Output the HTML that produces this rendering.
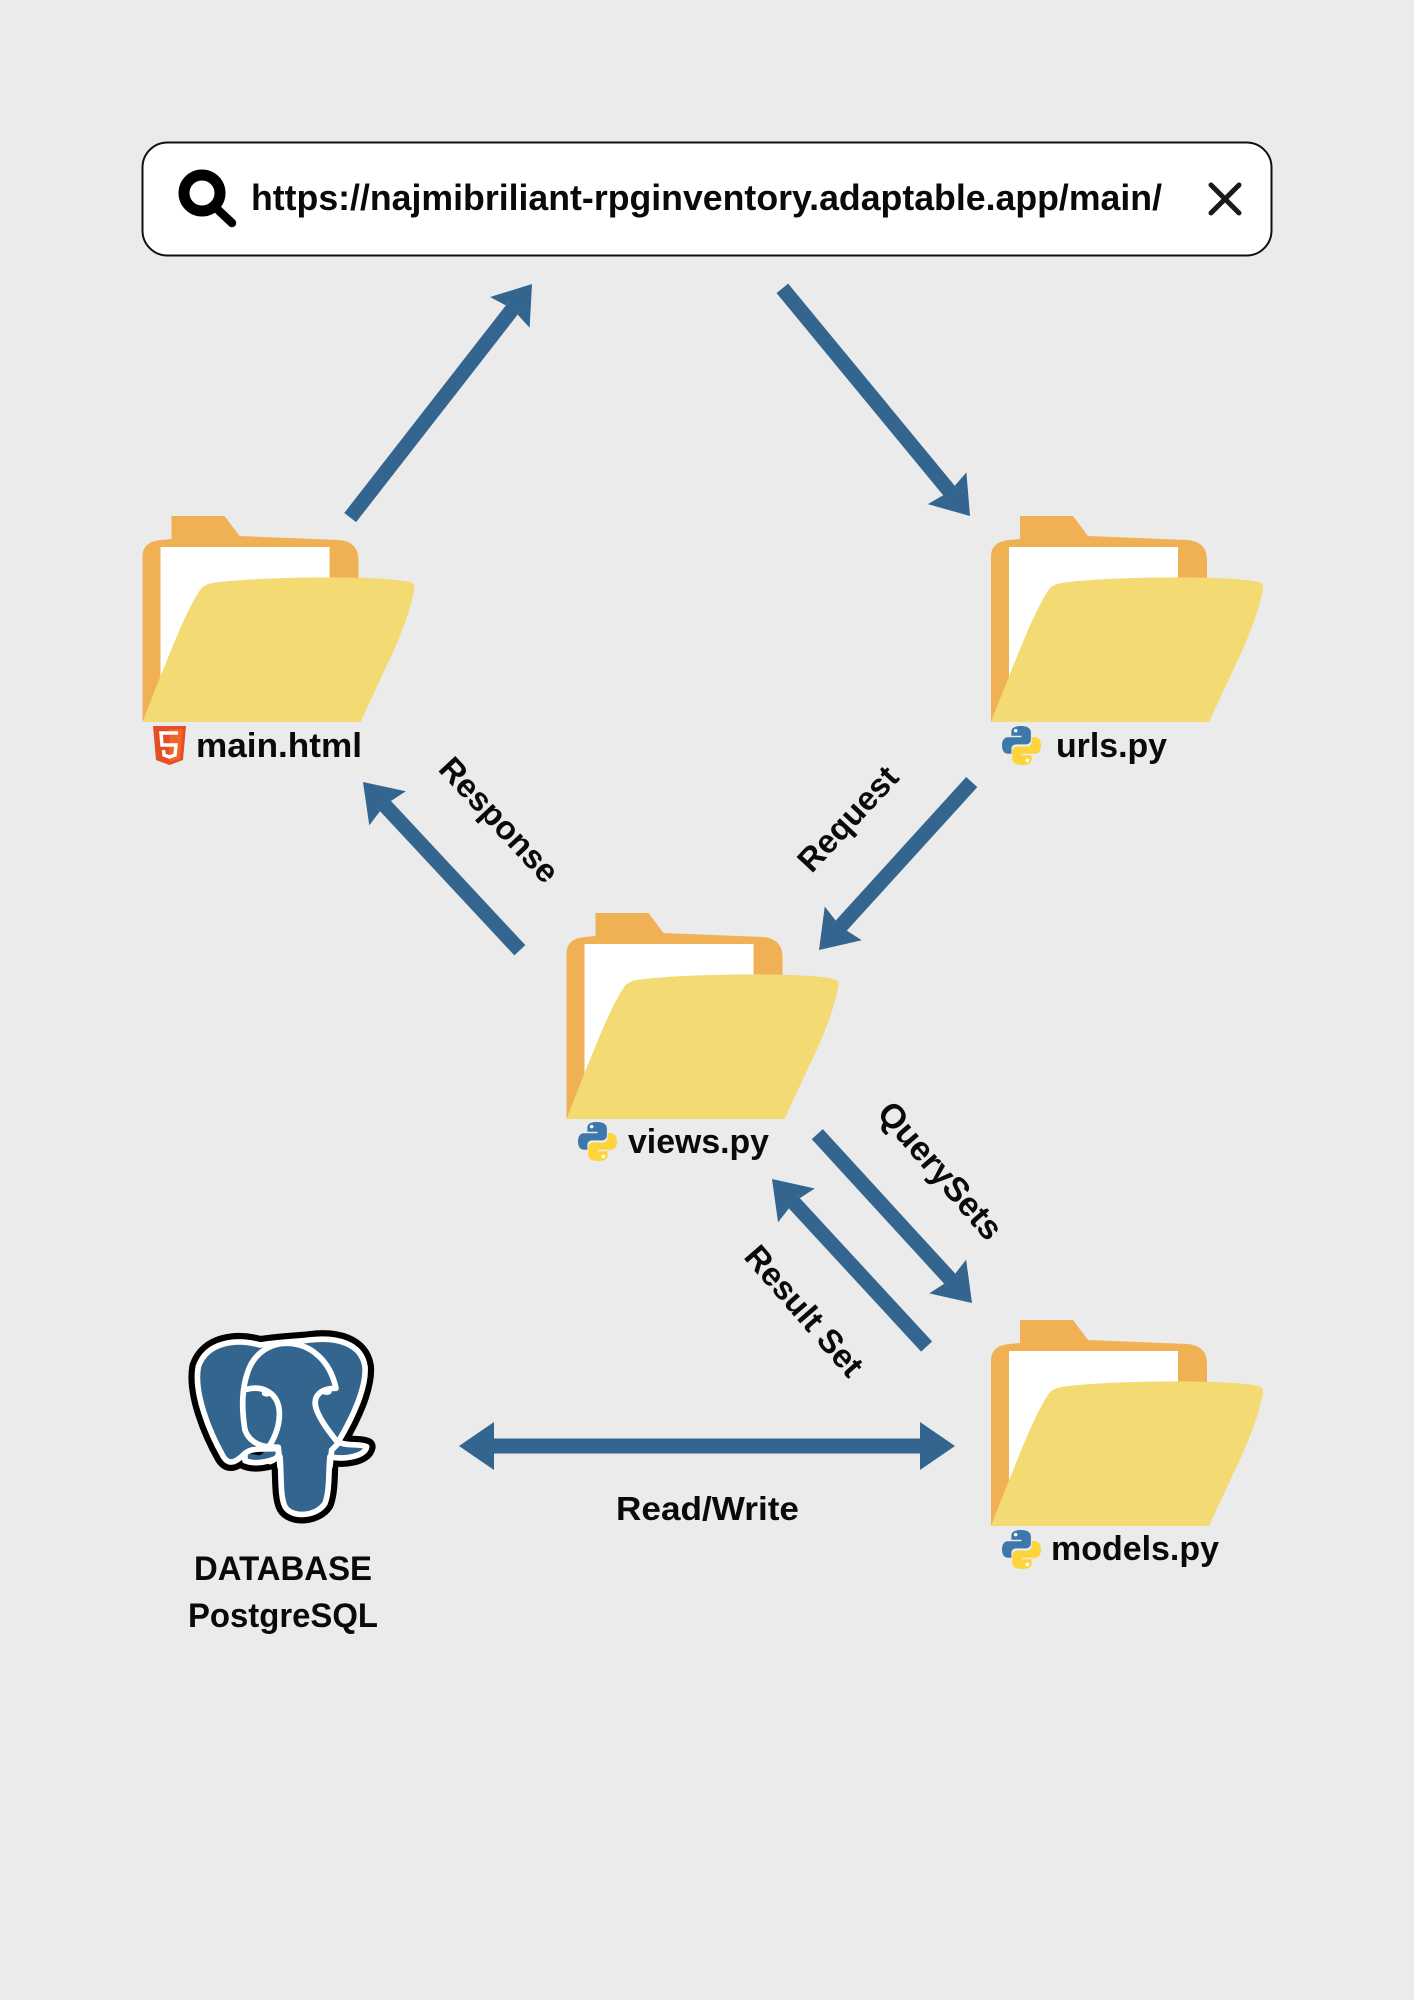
<!DOCTYPE html>
<html><head><meta charset="utf-8"><style>
html,body{margin:0;padding:0;background:#ebebeb}
svg{display:block}
text{font-family:"Liberation Sans",sans-serif;font-weight:700;fill:#0a0a0a}
</style></head><body>
<svg width="1414" height="2000" viewBox="0 0 1414 2000" xmlns="http://www.w3.org/2000/svg">
<defs>
<g id="folder">
<path fill="#f0b155" d="M0 206V40Q0 26 18 24L29 23V0H82L97 20L197 24Q216 26 216 44V206Z"/>
<path fill="#ffffff" d="M18 31H187V160H18Z"/>
<path fill="#f4da73" d="M0 206C12 175 28 135 37 114C44 98 52 82 57 75Q60 69 70 67C110 61 225 59 262 65Q272 66 272 71C270 91 255 128 244 150L218 206Z"/>
</g>
<g id="py">
<path fill="#3c78aa" d="M49 0C25 0 24 10 24 16V25H50V29H15C5 29 0 38 0 50C0 62 5 71 15 71H24V59C24 50 31 47 38 47H62C69 47 74 41 74 35V16C74 7 66 0 49 0Z"/>
<path fill="#ffd43b" transform="rotate(180 50 50)" d="M49 0C25 0 24 10 24 16V25H50V29H15C5 29 0 38 0 50C0 62 5 71 15 71H24V59C24 50 31 47 38 47H62C69 47 74 41 74 35V16C74 7 66 0 49 0Z"/>
<circle cx="35" cy="12" r="4.5" fill="#fff"/><circle cx="65" cy="88" r="4.5" fill="#fff"/>
</g>
<g id="arrowhead"><path fill="#33658f" d="M0 0L-36 -25L-33 -7.500H-28V7.500H-33L-36 25Z"/></g>
</defs>
<rect width="1414" height="2000" fill="#ebebeb"/>

<!-- search bar -->
<rect x="142.500" y="142.500" width="1129" height="113" rx="25" fill="#fff" stroke="#111" stroke-width="2"/>
<circle cx="202" cy="193" r="18" fill="none" stroke="#000" stroke-width="11"/>
<path d="M215 207L232 223" stroke="#000" stroke-width="8.500" stroke-linecap="round"/>
<text x="251" y="210" font-size="36" textLength="911" lengthAdjust="spacingAndGlyphs">https://najmibriliant-rpginventory.adaptable.app/main/</text>
<path d="M1211 185L1239 213M1239 185L1211 213" stroke="#1a1a1a" stroke-width="5" stroke-linecap="round"/>

<!-- folders -->
<use href="#folder" x="142.500" y="516"/>
<use href="#folder" x="991" y="516"/>
<use href="#folder" x="566.500" y="913"/>
<use href="#folder" x="991" y="1320"/>

<!-- html5 -->
<path fill="#e44d26" d="M153 726H186L183 760L169.500 765L156 760Z"/>
<path fill="#f16529" d="M169.500 729V762L180 759L183 729Z"/>
<path fill="none" stroke="#fff" stroke-width="3.500" d="M178 733H161L162 745H176L175 755L169.500 757L164 755L163.500 750"/>

<!-- python logos -->
<use href="#py" transform="translate(1002,726) scale(.39)"/>
<use href="#py" transform="translate(578,1122) scale(.39)"/>
<use href="#py" transform="translate(1002,1530) scale(.39)"/>

<!-- file labels -->
<text x="196" y="757" font-size="34" textLength="166" lengthAdjust="spacingAndGlyphs">main.html</text>
<text x="1056" y="757" font-size="34" textLength="111" lengthAdjust="spacingAndGlyphs">urls.py</text>
<text x="628" y="1153" font-size="34" textLength="141" lengthAdjust="spacingAndGlyphs">views.py</text>
<text x="1051" y="1560" font-size="34" textLength="168" lengthAdjust="spacingAndGlyphs">models.py</text>
<text x="616" y="1520" font-size="33" textLength="183" lengthAdjust="spacingAndGlyphs">Read/Write</text>
<text x="194" y="1580" font-size="34" textLength="178" lengthAdjust="spacingAndGlyphs">DATABASE</text>
<text x="188" y="1627" font-size="34" textLength="190" lengthAdjust="spacingAndGlyphs">PostgreSQL</text>

<!-- rotated labels -->
<text transform="translate(499,820) rotate(47)" text-anchor="middle" y="11" font-size="33">Response</text>
<text transform="translate(848,819) rotate(-47)" text-anchor="middle" y="11" font-size="33">Request</text>
<text transform="translate(940,1171) rotate(49)" text-anchor="middle" y="11" font-size="34">QuerySets</text>
<text transform="translate(804,1311) rotate(49)" text-anchor="middle" y="11" font-size="33">Result Set</text>

<!-- arrows -->
<g fill="#33658f">
<g transform="translate(532,284) rotate(-52.100)"><rect x="-296" y="-7.500" width="270" height="15"/><use href="#arrowhead"/></g>
<g transform="translate(970,516) rotate(50.500)"><rect x="-295" y="-7.500" width="270" height="15"/><use href="#arrowhead"/></g>
<g transform="translate(819,950) rotate(132.300)"><rect x="-227" y="-7.500" width="200" height="15"/><use href="#arrowhead"/></g>
<g transform="translate(363,782) rotate(-133)"><rect x="-230" y="-7.500" width="205" height="15"/><use href="#arrowhead"/></g>
<g transform="translate(972,1303) rotate(47.500)"><rect x="-229" y="-7.500" width="205" height="15"/><use href="#arrowhead"/></g>
<g transform="translate(772,1179) rotate(-132.700)"><rect x="-228" y="-7.500" width="205" height="15"/><use href="#arrowhead"/></g>
<rect x="485" y="1438.500" width="445" height="15"/>
<path d="M459 1446L494 1422V1470Z"/>
<path d="M955 1446L920 1422V1470Z"/>
</g>

<!-- elephant -->
<g transform="translate(170,1310) scale(.3333)" stroke-linejoin="round" stroke-linecap="round">
<path fill="#000" stroke="#000" stroke-width="54" d="M270 105C200 85 110 95 85 170C70 250 120 370 160 440C175 465 195 460 225 430L225 452C255 465 300 455 330 440C335 500 330 560 345 590C365 625 440 620 465 580C480 540 475 480 480 440C520 450 585 440 590 410C570 400 530 410 505 395C550 320 590 230 585 170C575 100 500 80 420 90C380 95 340 95 270 105Z"/>
<path fill="#33658f" stroke="#fff" stroke-width="17" d="M270 105C200 85 110 95 85 170C70 250 120 370 160 440C175 465 195 460 225 430L225 452C255 465 300 455 330 440C335 500 330 560 345 590C365 625 440 620 465 580C480 540 475 480 480 440C520 450 585 440 590 410C570 400 530 410 505 395C550 320 590 230 585 170C575 100 500 80 420 90C380 95 340 95 270 105Z"/>
<path fill="#000" d="M228 430L262 400L300 412L270 436Z"/>
<path fill="none" stroke="#fff" stroke-width="17" d="M225 430C250 410 290 420 320 415C332 430 325 445 300 455"/>
<path fill="none" stroke="#fff" stroke-width="17" d="M225 360C215 300 215 240 232 190C250 130 300 100 350 100C420 100 480 150 498 235C450 235 425 260 440 300C455 340 490 380 505 400L485 420L480 470"/>
<path fill="none" stroke="#fff" stroke-width="17" d="M230 238C280 225 325 250 328 305C330 345 315 380 300 405M225 360C235 390 265 410 300 410L325 412L330 470"/>
<ellipse cx="290" cy="250" rx="15" ry="10" fill="#fff"/>
<ellipse cx="470" cy="246" rx="15" ry="9" fill="#fff"/>
</g>
</svg>
</body></html>
